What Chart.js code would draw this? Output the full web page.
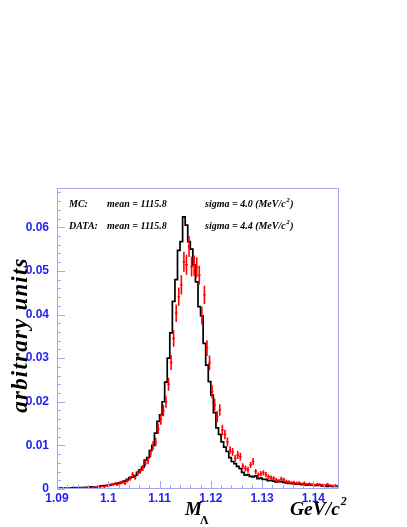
<!DOCTYPE html>
<html><head><meta charset="utf-8">
<script src="https://cdn.jsdelivr.net/npm/chart.js@4/dist/chart.umd.min.js"></script>
<style>html,body{margin:0;padding:0;background:#fff}</style>
</head><body>
<canvas id="c" width="407" height="527" style="display:block;width:407px;height:527px"></canvas>
<script>
// ---- data ----
const binLow = 1.09;
const binWidth = 0.0005;
const xTickValues = [1.09, 1.10, 1.11, 1.12, 1.13, 1.14];
const xTickLabels = ['1.09', '1.1', '1.11', '1.12', '1.13', '1.14'];
const yTickValues = [0, 0.01, 0.02, 0.03, 0.04, 0.05, 0.06];
const yTickLabels = ['0', '0.01', '0.02', '0.03', '0.04', '0.05', '0.06'];

// Monte Carlo histogram contents (110 bins of 0.5 MeV, 1.090 - 1.145)
const mcValues = [
  0.0001,0.0001,0.0002,0.0001,0.0002,0.0002,0.0002,0.0003,0.0002,0.0003,
  0.0003,0.0003,0.0004,0.0004,0.0005,0.0004,0.0005,0.0006,0.0007,0.0008,
  0.0008,0.0009,0.0010,0.0011,0.0013,0.0014,0.0016,0.0018,0.0022,0.0026,
  0.0027,0.0031,0.0038,0.0044,0.0050,0.0066,0.0072,0.0088,0.0100,0.0128,
  0.0155,0.0170,0.0200,0.0245,0.0300,0.0358,0.0430,0.0480,0.0547,0.0567,
  0.0624,0.0605,0.0567,0.0550,0.0514,0.0475,0.0418,0.0397,0.0334,0.0284,
  0.0246,0.0215,0.0175,0.0140,0.0125,0.0108,0.0096,0.0086,0.0072,0.0063,
  0.0058,0.0052,0.0047,0.0038,0.0032,0.0033,0.0029,0.0028,0.0030,0.0024,
  0.0025,0.0022,0.0022,0.0019,0.0020,0.0018,0.0016,0.0017,0.0017,0.0015,
  0.0014,0.0013,0.0014,0.0012,0.0011,0.0012,0.0010,0.0010,0.0009,0.0010,
  0.0009,0.0008,0.0008,0.0009,0.0007,0.0007,0.0006,0.0007,0.0006,0.0006
];

// Data points (same binning)
const dataValues = [
  0.0000,0.0001,0.0000,0.0002,0.0001,0.0000,0.0002,0.0001,0.0001,0.0003,
  0.0002,0.0003,0.0002,0.0003,0.0004,0.0005,0.0004,0.0006,0.0005,0.0008,
  0.0009,0.0011,0.0012,0.0010,0.0014,0.0016,0.0013,0.0019,0.0024,0.0033,
  0.0026,0.0036,0.0041,0.0048,0.0060,0.0065,0.0082,0.0100,0.0108,0.0138,
  0.0160,0.0180,0.0200,0.0240,0.0290,0.0345,0.0403,0.0441,0.0468,0.0521,
  0.0514,0.0556,0.0510,0.0512,0.0508,0.0490,0.0397,0.0445,0.0323,0.0289,
  0.0223,0.0193,0.0166,0.0181,0.0135,0.0125,0.0108,0.0089,0.0085,0.0070,
  0.0078,0.0074,0.0052,0.0047,0.0044,0.0055,0.0063,0.0040,0.0032,0.0035,
  0.0037,0.0033,0.0028,0.0026,0.0024,0.0021,0.0019,0.0023,0.0021,0.0017,
  0.0016,0.0014,0.0015,0.0013,0.0014,0.0012,0.0013,0.0011,0.0012,0.0010,
  0.0009,0.0011,0.0010,0.0009,0.0008,0.0011,0.0008,0.0007,0.0008,0.0007
];
const dataErrors = [
  0.0000,0.0001,0.0000,0.0001,0.0001,0.0000,0.0001,0.0001,0.0001,0.0002,
  0.0001,0.0002,0.0001,0.0002,0.0002,0.0002,0.0002,0.0002,0.0002,0.0003,
  0.0003,0.0003,0.0003,0.0003,0.0004,0.0004,0.0004,0.0004,0.0005,0.0006,
  0.0005,0.0006,0.0006,0.0007,0.0008,0.0008,0.0009,0.0010,0.0010,0.0012,
  0.0013,0.0013,0.0014,0.0015,0.0017,0.0019,0.0020,0.0021,0.0022,0.0023,
  0.0023,0.0024,0.0023,0.0023,0.0023,0.0022,0.0020,0.0021,0.0018,0.0017,
  0.0015,0.0014,0.0013,0.0013,0.0012,0.0011,0.0010,0.0009,0.0009,0.0008,
  0.0009,0.0009,0.0007,0.0007,0.0007,0.0007,0.0008,0.0006,0.0006,0.0006,
  0.0006,0.0006,0.0005,0.0005,0.0005,0.0005,0.0004,0.0005,0.0005,0.0004,
  0.0004,0.0004,0.0004,0.0004,0.0004,0.0003,0.0004,0.0003,0.0003,0.0003,
  0.0003,0.0003,0.0003,0.0003,0.0003,0.0003,0.0003,0.0003,0.0003,0.0003
];

// ---- build library datasets ----
const r5 = v => Math.round(v * 1e6) / 1e6;
const mcPts = mcValues.map((v, i) => ({x: r5(binLow + i * binWidth), y: v}));
mcPts.push({x: r5(binLow + mcValues.length * binWidth), y: mcValues[mcValues.length - 1]});

const vErr = [], hErr = [];
dataValues.forEach((v, i) => {
  if (v <= 0) return;
  const lo = r5(binLow + i * binWidth), hi = r5(lo + binWidth), c = r5(lo + binWidth / 2);
  const e = dataErrors[i];
  vErr.push({x: c, y: v - e}, {x: c, y: v + e}, {x: c, y: null});
  hErr.push({x: lo, y: v}, {x: hi, y: v}, {x: c, y: null});
});

const frameColor = '#a6a6ee';
const labelColor = '#1f1ff5';

const framePlugin = {
  id: 'frameTicks',
  afterDatasetsDraw(chart) {
    const {ctx, chartArea: a, scales: {x, y}} = chart;
    ctx.save();
    ctx.strokeStyle = frameColor;
    ctx.lineWidth = 1;
    ctx.strokeRect(a.left + 0.5, a.top + 0.5, a.right - a.left - 1, a.bottom - a.top - 1);
    ctx.beginPath();
    for (let k = 0; k <= 34; k++) {
      const v = k * 0.002;
      const py = Math.round(y.getPixelForValue(v)) + 0.5;
      const len = (k % 5 === 0) ? 8 : 4;
      ctx.moveTo(a.left, py); ctx.lineTo(a.left + len, py);
    }
    for (let k = 0; k <= 27; k++) {
      const v = 1.09 + k * 0.002;
      const px = Math.round(x.getPixelForValue(v)) + 0.5;
      const len = (k % 5 === 0) ? 8 : 4;
      ctx.moveTo(px, a.bottom); ctx.lineTo(px, a.bottom - len);
    }
    ctx.stroke();
    ctx.restore();
  },
  afterDraw(chart) {
    const {ctx} = chart;
    ctx.save();
    ctx.fillStyle = '#000';
    ctx.textBaseline = 'alphabetic';
    // annotations
    ctx.font = 'bold italic 10px "Liberation Serif"';
    ctx.fillText('MC:', 69, 207);
    ctx.fillText('mean = 1115.8', 107, 207);
    ctx.fillText('sigma = 4.0 (MeV/c', 205, 207);
    let w = ctx.measureText('sigma = 4.0 (MeV/c').width;
    ctx.font = 'bold italic 7px "Liberation Serif"';
    ctx.fillText('2', 205 + w + 0.5, 202);
    ctx.font = 'bold italic 10px "Liberation Serif"';
    ctx.fillText(')', 205 + w + 4.5, 207);

    ctx.fillText('DATA:', 69, 229);
    ctx.fillText('mean = 1115.8', 107, 229);
    ctx.fillText('sigma = 4.4 (MeV/c', 205, 229);
    w = ctx.measureText('sigma = 4.4 (MeV/c').width;
    ctx.font = 'bold italic 7px "Liberation Serif"';
    ctx.fillText('2', 205 + w + 0.5, 224);
    ctx.font = 'bold italic 10px "Liberation Serif"';
    ctx.fillText(')', 205 + w + 4.5, 229);

    // x-axis titles
    ctx.font = 'bold italic 19px "Liberation Serif"';
    ctx.fillText('M', 185, 515);
    ctx.font = 'bold 12px "Liberation Serif"';
    ctx.fillText('\u039B', 200, 524);
    ctx.font = 'bold italic 19.5px "Liberation Serif"';
    ctx.fillText('GeV/c', 290, 515);
    w = ctx.measureText('GeV/c').width;
    ctx.font = 'bold italic 12px "Liberation Serif"';
    ctx.fillText('2', 290 + w + 1, 505);

    // y-axis title
    ctx.font = 'bold italic 23px "Liberation Serif"';
    try { ctx.letterSpacing = '1.2px'; } catch (e) {}
    ctx.translate(27, 335);
    ctx.rotate(-Math.PI / 2);
    ctx.textAlign = 'center';
    ctx.fillText('arbitrary units', 0, 0);
    ctx.restore();
  }
};

new Chart(document.getElementById('c'), {
  type: 'line',
  data: {
    datasets: [
      {label: 'DATA v', data: vErr, borderColor: '#ff0000', borderWidth: 1.6, pointRadius: 0, spanGaps: false, order: 0, tension: 0},
      {label: 'DATA h', data: hErr, borderColor: '#ff0000', borderWidth: 1.4, pointRadius: 0, spanGaps: false, order: 0, tension: 0},
      {label: 'MC', data: mcPts, stepped: 'after', borderColor: '#000000', borderWidth: 1.7, pointRadius: 0, order: 1}
    ]
  },
  options: {
    responsive: false,
    animation: false,
    devicePixelRatio: 1,
    layout: {padding: {top: 188, right: 68, left: 0, bottom: 0}},
    plugins: {legend: {display: false}, tooltip: {enabled: false}},
    scales: {
      x: {
        type: 'linear', min: 1.09, max: 1.145,
        afterBuildTicks: s => { s.ticks = xTickValues.map(v => ({value: v})); },
        afterFit: s => { s.height = 38; },
        ticks: {
          autoSkip: false, maxRotation: 0, padding: 2, color: labelColor,
          font: {family: '"Liberation Sans"', size: 12, weight: 'bold'},
          callback: (v, i) => xTickLabels[i]
        },
        grid: {display: false, drawTicks: false},
        border: {display: false}
      },
      y: {
        type: 'linear', min: 0, max: 0.069,
        afterBuildTicks: s => { s.ticks = yTickValues.map(v => ({value: v})); },
        afterFit: s => { s.width = 57; },
        ticks: {
          autoSkip: false, padding: 8, color: labelColor,
          font: {family: '"Liberation Sans"', size: 12, weight: 'bold'},
          callback: (v, i) => yTickLabels[i]
        },
        grid: {display: false, drawTicks: false},
        border: {display: false}
      }
    }
  },
  plugins: [framePlugin]
});
</script>
</body></html>
